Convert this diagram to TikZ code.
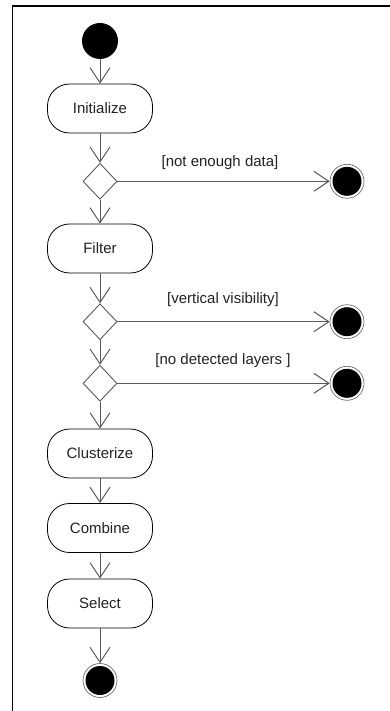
\documentclass[tikz,border=0pt]{standalone}
\usepackage{fontspec}
\setmainfont{Liberation Sans}
\usetikzlibrary{arrows.meta,shapes.geometric}
\definecolor{linegray}{HTML}{5A5A5A}
\definecolor{txt}{HTML}{222222}
\tikzset{
  action/.style={draw=black, line width=0.8pt, rectangle, rounded corners=22pt,
    minimum width=105pt, minimum height=49pt, inner sep=0pt, font=\fontsize{15}{18}\selectfont, text=txt},
  decision/.style={draw=linegray, line width=0.9pt, diamond, minimum width=34pt, minimum height=36pt, inner sep=0pt, aspect=0.95},
  startnode/.style={circle, fill=black, minimum size=36pt, inner sep=0pt},
  endnode/.style={circle, draw=linegray, line width=0.6pt, minimum size=34pt, inner sep=0pt},
  flow/.style={draw=linegray, line width=1pt, -{Straight Barb[length=15pt,width=20pt,line width=1pt]}},
  guard/.style={font=\fontsize{15}{18}\selectfont, text=txt, inner sep=0pt}
}
\begin{document}
\begin{tikzpicture}[x=1pt,y=-1pt]
\useasboundingbox (0,0) rectangle (390,711);
\draw[line width=1.5pt] (390,6) -- (12.5,6) -- (12.5,711);

\node[startnode] (start) at (100,41) {};
\node[action] (init) at (100,108.5) {Initialize};
\node[decision] (d1) at (100,181.3) {};
\node[endnode] (f1) at (347,181.3) {};
\node[action] (filter) at (100,248.5) {Filter};
\node[decision] (d2) at (100,321.7) {};
\node[endnode] (f2) at (347,321.7) {};
\node[decision] (d3) at (100,383.3) {};
\node[endnode] (f3) at (347,383.3) {};
\node[action] (clust) at (100,453.5) {Clusterize};
\node[action] (comb) at (100,528) {Combine};
\node[action] (sel) at (100,603.5) {Select};
\node[endnode] (fend) at (100,680.5) {};

\foreach \n in {f1,f2,f3,fend} \fill[black] (\n.center) circle (14.5pt);

\node[guard] (g1) at (220,163) {[not enough data]};
\node[guard] (g2) at (223,300) {[vertical visibility]};
\node[guard] (g3) at (223,361) {[no detected layers ]};

\draw[flow] (start) -- (init);
\draw[flow] (init) -- (d1);
\draw[flow] (d1) -- (filter);
\draw[flow] (d1) -- (f1);
\draw[flow] (filter) -- (d2);
\draw[flow] (d2) -- (f2);
\draw[flow] (d2) -- (d3);
\draw[flow] (d3) -- (f3);
\draw[flow] (d3) -- (clust);
\draw[flow] (clust) -- (comb);
\draw[flow] (comb) -- (sel);
\draw[flow] (sel) -- (fend);
\end{tikzpicture}
\end{document}
